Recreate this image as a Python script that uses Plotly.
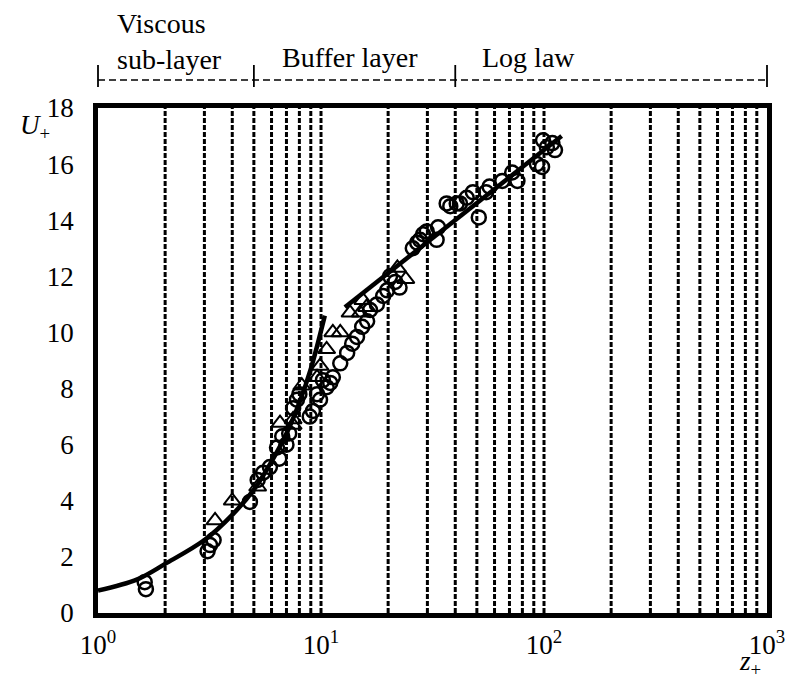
import numpy as np
import plotly.graph_objects as go

# ---- data ----
circle_z = [1.64, 1.62, 3.1, 3.18, 3.3, 4.8, 5.2, 5.5, 5.9, 6.35, 6.5, 6.7, 7.0, 7.2, 7.5, 7.8, 8.0,
            8.9, 9.2, 9.6, 9.9, 10.2, 10.6, 11.0, 11.3, 12.2, 13.1, 13.8, 14.5, 15.3, 16.1, 16.6,
            17.8, 19.0, 19.8, 20.4, 21.5, 22.5, 25.8, 27.0, 27.8, 28.7, 29.8, 33.0, 33.5, 36.6,
            38.0, 40.6, 42.0, 45.0, 48.0, 51.0, 55.0, 57.0, 65.0, 72.0, 76.0, 93.0, 98.0, 99.0,
            103.0, 109.0, 112.0]
circle_u = [0.85, 1.1, 2.2, 2.42, 2.6, 3.96, 4.74, 5.0, 5.2, 5.9, 5.5, 6.3, 6.0, 6.4, 7.3, 7.6, 7.8,
            7.0, 7.2, 7.8, 7.6, 8.3, 8.05, 8.2, 8.4, 8.9, 9.27, 9.6, 9.84, 10.2, 10.4, 10.8,
            11.0, 11.3, 11.5, 12.0, 11.8, 11.6, 13.0, 13.2, 13.3, 13.5, 13.6, 13.3, 13.75, 14.6,
            14.5, 14.6, 14.6, 14.8, 15.0, 14.1, 15.0, 15.2, 15.4, 15.7, 15.4, 16.0, 15.9, 16.85,
            16.6, 16.75, 16.5]

tri_z = [3.35, 4.0, 5.2, 6.55, 7.5, 7.5, 8.2, 9.6, 9.9, 10.6, 11.3, 12.2, 13.5, 15.0, 15.4, 16.0, 22.0, 24.0]
tri_u = [3.3, 4.0, 4.5, 6.77, 6.7, 6.9, 8.1, 8.4, 8.8, 9.4, 10.0, 10.0, 10.7, 10.7, 11.15, 10.9, 12.3, 11.9]

visc_z = [1, 1.5, 2, 3, 4, 5, 6, 7, 8, 9, 10.4]
visc_u = [0.8, 1.2, 1.75, 2.6, 3.5, 4.4, 5.4, 6.4, 7.5, 8.7, 10.6]

log_z = [12.8, 120]
log_u = [10.9, 17.0]

grid_z = [2, 3, 4, 5, 6, 7, 8, 9, 10, 20, 30, 40, 50, 60, 70, 80, 90, 100,
          200, 300, 400, 500, 600, 700, 800, 900]

region_bounds = [1, 5, 40, 1000]
region_labels = ["Viscous<br>sub-layer", "Buffer layer", "Log law"]

x_range = [1, 1000]
y_range = [0, 18]
y_ticks = list(range(0, 19, 2))
x_ticks = [1, 10, 100, 1000]
x_ticktext = ["10<sup>0</sup>", "10<sup>1</sup>", "10<sup>2</sup>", "10<sup>3</sup>"]

FONT = "Liberation Serif"

PW, PH = 669, 505          # plot area size in pixels
ML, MT, MR, MB = 98, 108, 20, 66

fig = go.Figure()

for g in grid_z:
    fig.add_trace(go.Scatter(x=[g, g], y=y_range, mode="lines",
                             line=dict(color="black", width=3, dash="5px,2px"),
                             hoverinfo="skip", showlegend=False))

fig.add_trace(go.Scatter(x=circle_z, y=circle_u, mode="markers", showlegend=False,
                         marker=dict(symbol="circle-open", size=14, color="black",
                                     line=dict(width=2.5, color="black"))))
fig.add_trace(go.Scatter(x=tri_z, y=tri_u, mode="markers", showlegend=False,
                         marker=dict(symbol="triangle-up-open", size=15, color="black",
                                     line=dict(width=2, color="black"))))

fig.add_trace(go.Scatter(x=visc_z, y=visc_u, mode="lines", showlegend=False,
                         line=dict(color="black", width=4.5, shape="spline")))
fig.add_trace(go.Scatter(x=log_z, y=log_u, mode="lines", showlegend=False,
                         line=dict(color="black", width=4.5)))

lx0, lx1 = np.log10(x_range[0]), np.log10(x_range[1])
def frac(v):
    return (np.log10(v) - lx0) / (lx1 - lx0)
def py(pix_above_bottom):
    return pix_above_bottom / PH

# bracket: line 533px above plot bottom, ticks from 527 to 548
fig.add_shape(type="line", xref="paper", yref="paper", x0=0, x1=1, y0=py(533), y1=py(533),
              line=dict(color="black", width=1.6, dash="7px,4px"))
for b in region_bounds:
    fig.add_shape(type="line", xref="paper", yref="paper", x0=frac(b), x1=frac(b),
                  y0=py(526), y1=py(548), line=dict(color="black", width=1.8))

label_offsets = [17, 26, 25]     # px right of each region's start
label_heights = [572, 555, 555]  # px above plot bottom (text center)
for b, off, h, txt in zip(region_bounds, label_offsets, label_heights, region_labels):
    fig.add_annotation(xref="paper", yref="paper", x=frac(b) + off / PW, y=py(h), text=txt,
                       showarrow=False, xanchor="left", yanchor="middle", align="left",
                       font=dict(family=FONT, size=28, color="black"))

fig.add_annotation(xref="paper", yref="paper", x=-63 / PW, y=py(486), text="<i>U</i><sub>+</sub>",
                   showarrow=False, xanchor="center", yanchor="middle",
                   font=dict(family=FONT, size=27, color="black"))
fig.add_annotation(xref="paper", yref="paper", x=(750 - 98) / PW, y=py(-50), text="<i>z</i><sub>+</sub>",
                   showarrow=False, xanchor="center", yanchor="middle",
                   font=dict(family=FONT, size=27, color="black"))

fig.update_layout(
    width=ML + PW + MR, height=MT + PH + MB,
    margin=dict(l=ML, r=MR, t=MT, b=MB, autoexpand=False),
    paper_bgcolor="white", plot_bgcolor="white",
    font=dict(family=FONT, size=27, color="black"),
    xaxis=dict(type="log", range=[lx0, lx1], showgrid=False, zeroline=False, automargin=False,
               tickvals=x_ticks, ticktext=x_ticktext, ticks="", ticklabelstandoff=4,
               showline=True, mirror=True, linecolor="black", linewidth=4.5),
    yaxis=dict(range=y_range, showgrid=False, zeroline=False, tickvals=y_ticks, automargin=False,
               ticks="", ticklabelstandoff=14,
               showline=True, mirror=True, linecolor="black", linewidth=4.5),
)

fig.write_html("out.html", config={"displayModeBar": False},
               post_script="document.body.style.margin='0';document.body.style.overflow='hidden';")
